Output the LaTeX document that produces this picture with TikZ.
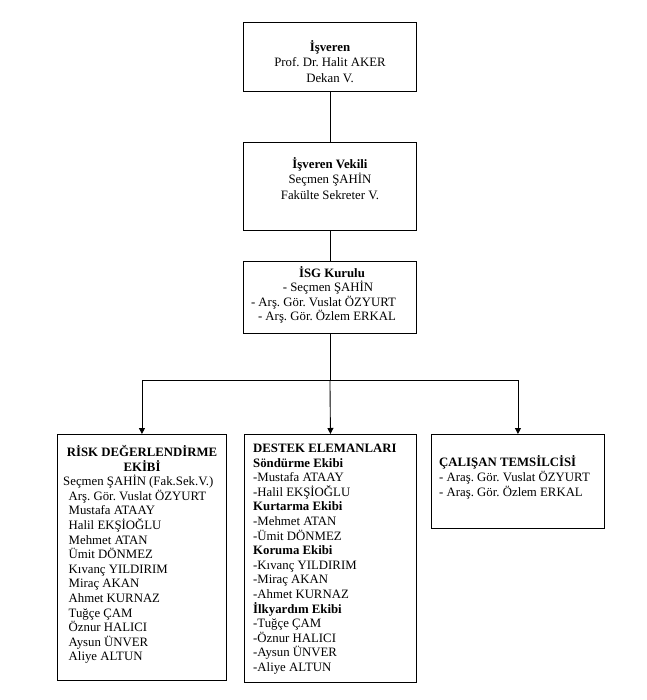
\documentclass[tikz,border=0pt]{standalone}
\usepackage{fontspec}
\setmainfont{Liberation Serif}
\usetikzlibrary{arrows.meta}
\frenchspacing
\begin{document}
\begin{tikzpicture}[x=1pt,y=-1pt,
  box/.style={draw, line width=0.9pt, inner sep=0pt, anchor=north west},
  txt/.style={inner sep=0pt, font=\fontsize{12.8}{15}\selectfont, anchor=base},
  ltxt/.style={txt, anchor=base west},
  conn/.style={line width=0.9pt},
  arr/.style={conn, -{Triangle[width=6pt,length=6pt]}}]
\useasboundingbox (0,0) rectangle (646,700);
% boxes
\node[box, minimum width=173pt, minimum height=69pt] (isv) at (243,22) {};
\node[box, minimum width=173pt, minimum height=88pt] (vek) at (243,142) {};
\node[box, minimum width=173pt, minimum height=72pt] (isg) at (243,261) {};
\node[box, minimum width=169pt, minimum height=246pt] (risk) at (57,434) {};
\node[box, minimum width=172pt, minimum height=248pt] (dest) at (244,434) {};
\node[box, minimum width=173pt, minimum height=94pt] (cal) at (431,434) {};
% texts
\foreach [count=\i] \t in {{\textbf{İşveren}},{Prof. Dr. Halit AKER},{Dekan V.}}
  \node[txt] (isvt\i) at (330,51.5+15.3*\i-15.3) {\t};
\foreach [count=\i] \t in {{\textbf{İşveren Vekili}},{Seçmen ŞAHİN},{Fakülte Sekreter V.}}
  \node[txt] (vekt\i) at (330,168.5+15.3*\i-15.3) {\t};
\node[txt] (isgt1) at (332,277.5) {\textbf{İSG Kurulu}};
\node[txt] (isgt2) at (328,291.8) {- Seçmen ŞAHİN};
\node[txt] (isgt3) at (323.5,306.1) {- Arş. Gör. Vuslat ÖZYURT};
\node[txt] (isgt4) at (327,320.4) {- Arş. Gör. Özlem ERKAL};
\node[txt] (riskt1) at (142,456.5) {\textbf{RİSK DEĞERLENDİRME}};
\node[txt] (riskt2) at (142,471.1) {\textbf{EKİBİ}};
\node[ltxt] (riskt3) at (63,485.7) {Seçmen ŞAHİN (Fak.Sek.V.)};
\foreach [count=\i] \t in {{Arş. Gör. Vuslat ÖZYURT},{Mustafa ATAAY},{Halil EKŞİOĞLU},{Mehmet ATAN},{Ümit DÖNMEZ},{Kıvanç YILDIRIM},{Miraç AKAN},{Ahmet KURNAZ},{Tuğçe ÇAM},{Öznur HALICI},{Aysun ÜNVER},{Aliye ALTUN}}
  \node[ltxt] (riskn\i) at (68.5,485.7+14.6*\i) {\t};
\foreach [count=\i] \t in {{\textbf{DESTEK ELEMANLARI}},{\textbf{Söndürme Ekibi}},{-Mustafa ATAAY},{-Halil EKŞİOĞLU},{\textbf{Kurtarma Ekibi}},{-Mehmet ATAN},{-Ümit DÖNMEZ},{\textbf{Koruma Ekibi}},{-Kıvanç YILDIRIM},{-Miraç AKAN},{-Ahmet KURNAZ},{\textbf{İlkyardım Ekibi}},{-Tuğçe ÇAM},{-Öznur HALICI},{-Aysun ÜNVER},{-Aliye ALTUN}}
  \node[ltxt] (destt\i) at (253,452.5+14.6*\i-14.6) {\t};
\foreach [count=\i] \t in {{\textbf{ÇALIŞAN TEMSİLCİSİ}},{- Araş. Gör. Vuslat ÖZYURT},{- Araş. Gör. Özlem ERKAL}}
  \node[ltxt] (calt\i) at (439,466.5+15*\i-15) {\t};
% connectors
\draw[conn] (isv.south) -- (vek.north);
\draw[conn] (vek.south) -- (isg.north);
\draw[conn] (isg.south) -- ++(0,47) coordinate (j);
\draw[arr] (j) -| (risk.north);
\draw[arr] (j) -- (dest.north);
\draw[arr] (j) -| (cal.north);
\end{tikzpicture}
\end{document}
